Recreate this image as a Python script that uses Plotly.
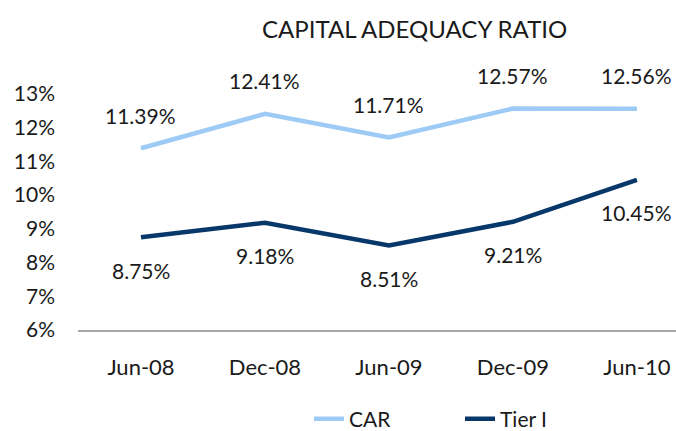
import plotly.graph_objects as go

categories = ["Jun-08", "Dec-08", "Jun-09", "Dec-09", "Jun-10"]
car = [11.39, 12.41, 11.71, 12.57, 12.56]
tier1 = [8.75, 9.18, 8.51, 9.21, 10.45]
y_ticks = [6, 7, 8, 9, 10, 11, 12, 13]

FONT = "Lato, Open Sans, sans-serif"
TXT = "#1a1a1a"
CAR_COL = "#9DCBF6"
T1_COL = "#08386A"

W, H = 676, 431
ML, MR, MT, MB = 78, 0, 94, 101
PW, PH = W - ML - MR, H - MT - MB

xs = list(range(len(categories)))

fig = go.Figure()
fig.add_trace(go.Scatter(x=xs, y=car, mode="lines", name="CAR",
                         line=dict(color=CAR_COL, width=4.5)))
fig.add_trace(go.Scatter(x=xs, y=tier1, mode="lines", name="Tier I",
                         line=dict(color=T1_COL, width=4.5)))

annotations = []
for x, v in zip(xs, car):
    annotations.append(dict(x=x, y=v, xref="x", yref="y", text=f"{v:.2f}%",
                            showarrow=False, yshift=33,
                            font=dict(family=FONT, size=21, color=TXT)))
for x, v in zip(xs, tier1):
    annotations.append(dict(x=x, y=v, xref="x", yref="y", text=f"{v:.2f}%",
                            showarrow=False, yshift=-33,
                            font=dict(family=FONT, size=21, color=TXT)))
annotations.append(dict(x=(414 - ML) / PW, y=(H - 28 - MB) / PH,
                        xref="paper", yref="paper", xanchor="center", yanchor="middle",
                        text="CAPITAL ADEQUACY RATIO", showarrow=False,
                        font=dict(family=FONT, size=24, color=TXT)))

fig.update_layout(
    width=W, height=H,
    margin=dict(l=ML, r=MR, t=MT, b=MB, autoexpand=False),
    paper_bgcolor="white", plot_bgcolor="white",
    showlegend=True,
    legend=dict(orientation="h", x=(289 - ML + 20) / PW, xanchor="left",
                y=-(419 - (H - MB)) / PH, yanchor="middle",
                font=dict(family=FONT, size=21, color=TXT),
                entrywidth=106, entrywidthmode="pixels",
                bgcolor="rgba(0,0,0,0)"),
    xaxis=dict(range=[-0.508, 4.315], tickvals=xs, ticktext=categories,
               showgrid=False, zeroline=False, showline=True, linecolor="#A6A6A6",
               linewidth=1.5, ticks="", ticklabelstandoff=17, automargin=False,
               tickfont=dict(family=FONT, size=22, color=TXT)),
    yaxis=dict(range=[6, 13], tickvals=y_ticks, ticktext=[f"{t}%" for t in y_ticks],
               showgrid=False, zeroline=False, showline=False, ticks="",
               ticklabelstandoff=22, automargin=False,
               tickfont=dict(family=FONT, size=21, color=TXT)),
    annotations=annotations,
)

fig.write_html("out.html",
               config={"displayModeBar": False},
               post_script="document.body.style.margin='0';document.body.style.overflow='hidden';")
